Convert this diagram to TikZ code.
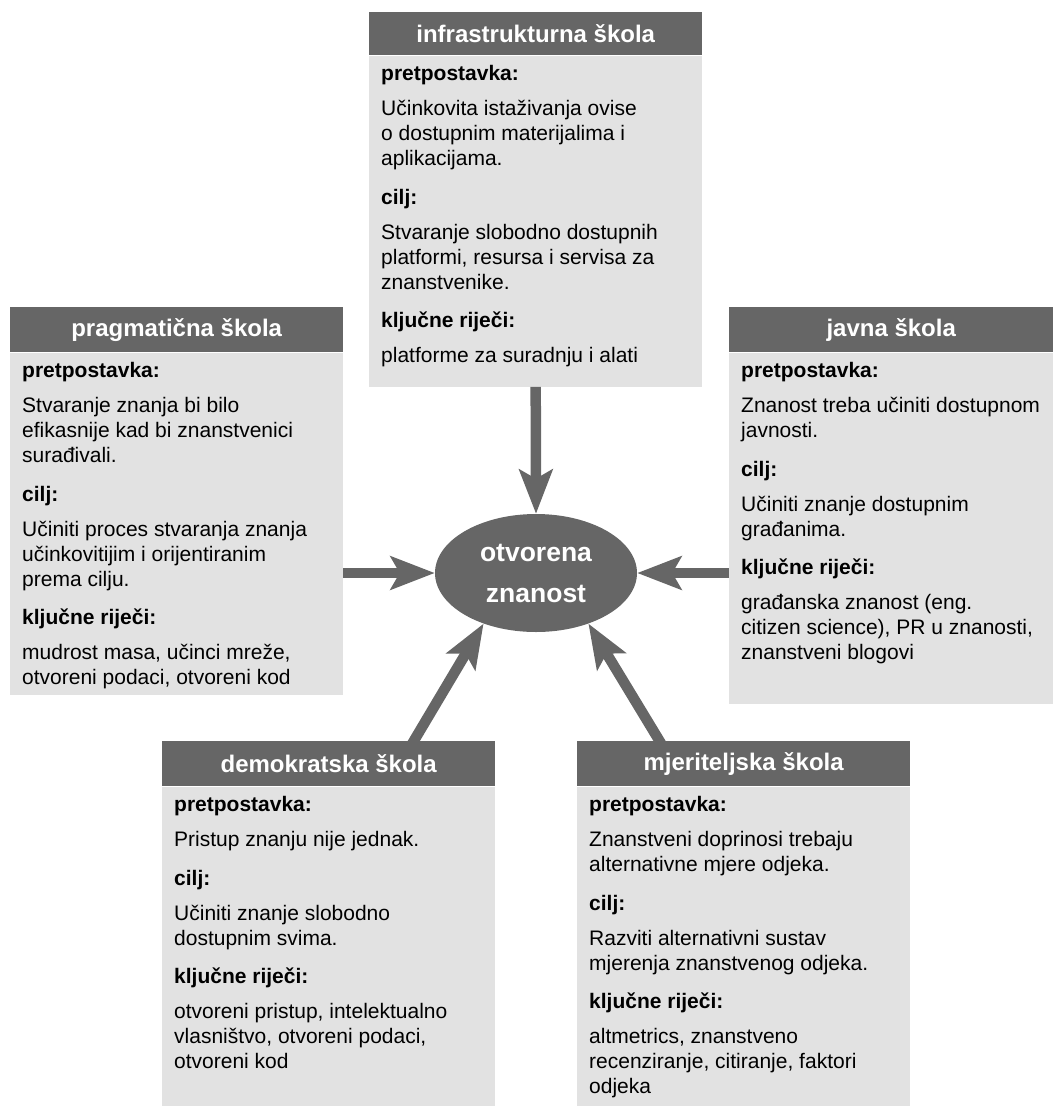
\documentclass[tikz,border=0pt]{standalone}
\usepackage{fontspec}
\setmainfont{Liberation Sans}
\usepackage{tikz}
\usetikzlibrary{positioning, shapes, arrows.meta}

\definecolor{headgray}{HTML}{666666}
\definecolor{bodygray}{HTML}{E2E2E2}

% body text of one school: width, height, text
\newcommand{\schooltext}[3]{\parbox[t][#2][t]{#1}{\raggedright #3}}

\begin{document}
\begin{tikzpicture}[
    x=1pt, y=-1pt,
    head/.style={
        rectangle,
        fill=headgray, text=white,
        font=\bfseries\fontsize{24}{28}\selectfont,
        minimum width=333pt,
        minimum height=45pt,
        inner sep=0pt,
        anchor=north west
    },
    body/.style={
        rectangle,
        fill=bodygray,
        inner xsep=12pt, inner ysep=10pt,
        font=\fontsize{21}{25}\selectfont
    },
    arr/.style={
        draw=headgray, line width=10.5pt,
        -{Stealth[length=44pt, width=33pt, inset=9pt]}
    }
]
\useasboundingbox (0,0) rectangle (1053,1112);

% Infrastructure
\node[head,minimum height=43pt] (infra) at (369,12) {infrastrukturna škola};
\node[body,below=0pt of infra] (infraBody)
{\schooltext{309pt}{311pt}{%
\textbf{pretpostavka:}\\[10pt]
Učinkovita istaživanja ovise\\
o dostupnim materijalima i\\
aplikacijama.\\[13.5pt]
\textbf{cilj:}\\[10pt]
Stvaranje slobodno dostupnih\\
platformi, resursa i servisa za\\
znanstvenike.\\[13.5pt]
\textbf{ključne riječi:}\\[10pt]
platforme za suradnju i alati}};

% Pragmatic
\node[head] (prag) at (10,307) {pragmatična škola};
\node[body,below=0pt of prag] (pragBody)
{\schooltext{309pt}{322pt}{%
\textbf{pretpostavka:}\\[10pt]
Stvaranje znanja bi bilo\\
efikasnije kad bi znanstvenici\\
surađivali.\\[13.5pt]
\textbf{cilj:}\\[10pt]
Učiniti proces stvaranja znanja\\
učinkovitijim i orijentiranim\\
prema cilju.\\[13.5pt]
\textbf{ključne riječi:}\\[10pt]
mudrost masa, učinci mreže,\\
otvoreni podaci, otvoreni kod}};

% Public
\node[head,minimum width=324pt] (javna) at (729,307) {javna škola};
\node[body,below=0pt of javna] (javnaBody)
{\schooltext{300pt}{331pt}{%
\textbf{pretpostavka:}\\[10pt]
Znanost treba učiniti dostupnom\\
javnosti.\\[13.5pt]
\textbf{cilj:}\\[10pt]
Učiniti znanje dostupnim\\
građanima.\\[13.5pt]
\textbf{ključne riječi:}\\[10pt]
građanska znanost (eng.\\
citizen science), PR u znanosti,\\
znanstveni blogovi}};

% Democratic
\node[head] (demo) at (162,741) {demokratska škola};
\node[body,below=0pt of demo] (demoBody)
{\schooltext{309pt}{299pt}{%
\textbf{pretpostavka:}\\[10pt]
Pristup znanju nije jednak.\\[13.5pt]
\textbf{cilj:}\\[10pt]
Učiniti znanje slobodno\\
dostupnim svima.\\[13.5pt]
\textbf{ključne riječi:}\\[10pt]
otvoreni pristup, intelektualno\\
vlasništvo, otvoreni podaci,\\
otvoreni kod}};

% Measurement
\node[head] (mjer) at (577,741) {mjeriteljska škola};
\node[body,below=0pt of mjer] (mjerBody)
{\schooltext{309pt}{299pt}{%
\textbf{pretpostavka:}\\[10pt]
Znanstveni doprinosi trebaju\\
alternativne mjere odjeka.\\[13.5pt]
\textbf{cilj:}\\[10pt]
Razviti alternativni sustav\\
mjerenja znanstvenog odjeka.\\[13.5pt]
\textbf{ključne riječi:}\\[10pt]
altmetrics, znanstveno\\
recenziranje, citiranje, faktori\\
odjeka}};

% Centre
\node[ellipse, fill=headgray, text=white, inner sep=0pt,
      minimum width=202pt, minimum height=118pt, align=center,
      font=\bfseries\fontsize{26.5}{41}\selectfont] (open) at (536,573)
{otvorena\\znanost};

% Arrows
\draw[arr] (infraBody.south) -- (open.north);
\draw[arr] (pragBody.east |- open.west) -- (open.west);
\draw[arr] (javnaBody.west |- open.east) -- (open.east);
\draw[arr] ([xshift=81.5pt,yshift=-6pt]demo.north) -- (open.224);
\draw[arr] ([xshift=-80.5pt,yshift=-6pt]mjer.north) -- (open.316);

\end{tikzpicture}
\end{document}
